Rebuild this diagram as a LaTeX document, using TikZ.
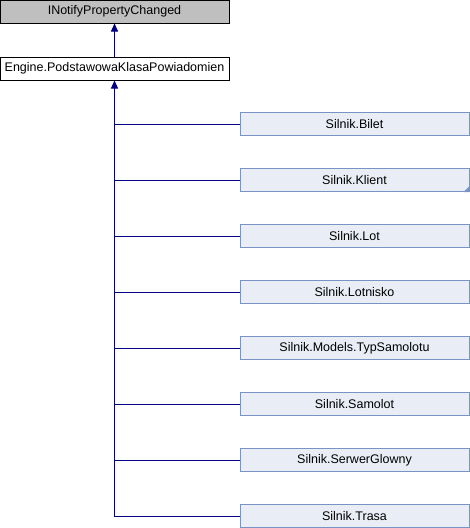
\documentclass[tikz,border=0pt]{standalone}
\usepackage{fontspec}
\setmainfont{Liberation Sans}
\usetikzlibrary{arrows.meta,positioning}
\definecolor{dgNavy}{HTML}{000080}
\definecolor{dgGrey}{HTML}{BFBFBF}
\definecolor{dgFill}{HTML}{E8EDF6}
\definecolor{dgEdge}{HTML}{7A93C6}
\tikzset{
  >={Triangle[length=8pt,width=7pt]},
  cls/.style={draw=black, line width=1pt, minimum width=229pt, minimum height=23pt,
              inner sep=0pt, font=\fontsize{12.5}{15}\selectfont},
  iface/.style={cls, fill=dgGrey},
  base/.style={cls, fill=white},
  child/.style={cls, draw=dgEdge, fill=dgFill},
  inherit/.style={draw=dgNavy, line width=1pt},
}
\begin{document}
\begin{tikzpicture}[x=1pt,y=-1pt]
    \useasboundingbox (0,0) rectangle (470,528);
    % parents
    \node[iface] (inpc) at (114.5,11.5) {INotifyPropertyChanged};
    \node[base] (engine) at (114.5,68.5) {Engine.PodstawowaKlasaPowiadomien};
    \draw[inherit,->] (engine.north) -- (inpc.south);
    % derived classes
    \foreach \i/\name in {1/Bilet,2/Klient,3/Lot,4/Lotnisko,5/Models.TypSamolotu,
                          6/Samolot,7/SerwerGlowny,8/Trasa}{
      \node[child] (c\i) at (354.5,68+56*\i) {Silnik.\name};
    }
    \fill[dgEdge] (c2.south east) -- ++(-6,0) -- ++(6,-6) -- cycle;
    \draw[inherit,->] (c8.west) -| (engine.south);
    \foreach \i in {1,...,7}{
      \draw[inherit] (c\i.west) -- (c\i.west -| engine.south);
    }
\end{tikzpicture}
\end{document}
